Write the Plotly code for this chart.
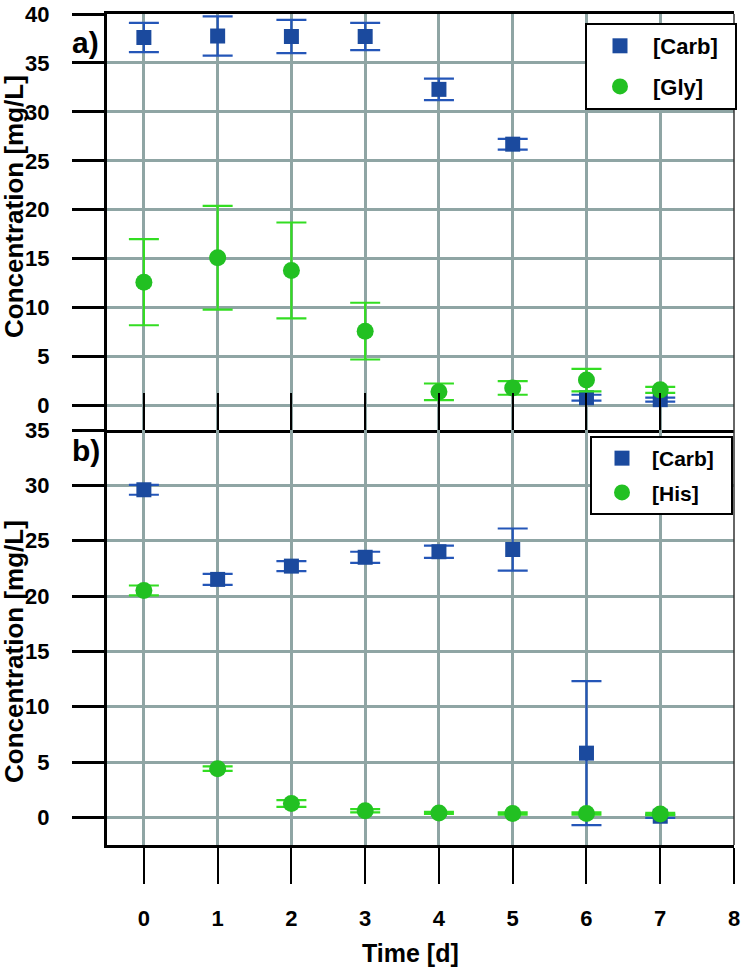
import plotly.graph_objects as go

days = [0, 1, 2, 3, 4, 5, 6, 7]

# Panel a
carb_a = [37.6, 37.75, 37.7, 37.7, 32.3, 26.7, 0.8, 0.6]
carb_a_err = [1.5, 2.0, 1.7, 1.4, 1.1, 0.55, 0.3, 0.2]
gly = [12.6, 15.1, 13.8, 7.6, 1.4, 1.8, 2.6, 1.6]
gly_err = [4.4, 5.3, 4.9, 2.9, 0.85, 0.7, 1.15, 0.3]

# Panel b
carb_b = [29.6, 21.5, 22.7, 23.5, 24.0, 24.2, 5.8, 0.1]
carb_b_err = [0.45, 0.5, 0.45, 0.5, 0.55, 1.9, 6.5, 0.15]
his = [20.5, 4.4, 1.25, 0.6, 0.4, 0.35, 0.35, 0.3]
his_err = [0.45, 0.2, 0.3, 0.15, 0.1, 0.1, 0.1, 0.1]

x_ticks = [0, 1, 2, 3, 4, 5, 6, 7, 8]
ya_ticks = [0, 5, 10, 15, 20, 25, 30, 35, 40]
yb_ticks = [0, 5, 10, 15, 20, 25, 30, 35]

BLUE = "#1b4a9e"
BLUE_E = "#2456b8"
GREEN = "#22c022"
GREEN_E = "#33dd22"
GRID = "#8fa5a4"
FONT = "Liberation Sans"
NB = "\u00a0"

fig = go.Figure()

def add(x, y, err, name, sym, col, ecol, xa, ya, legend, size, group):
    fig.add_trace(go.Scatter(
        x=x, y=y, mode="markers", name=name, legendgroup=group,
        marker=dict(symbol=sym, size=size, color=col),
        error_y=dict(type="data", array=err, color=ecol, thickness=2.2, width=15),
        xaxis=xa, yaxis=ya, legend=legend))

add(days, carb_a, carb_a_err, "[Carb]" + NB * 2, "square", BLUE, BLUE_E, "x", "y", "legend", 15, "a1")
add(days, gly, gly_err, "[Gly]", "circle", GREEN, GREEN_E, "x", "y", "legend", 17, "a2")
add(days, carb_b, carb_b_err, "[Carb]" + NB * 2, "square", BLUE, BLUE_E, "x2", "y2", "legend2", 15, "b1")
add(days, his, his_err, "[His]", "circle", GREEN, GREEN_E, "x2", "y2", "legend2", 17, "b2")

split = (845 - 430) / 831

common_x = dict(range=[-0.5, 8], tickvals=x_ticks, showgrid=True, gridcolor=GRID,
                gridwidth=3, zeroline=False, showline=True, linecolor="black",
                linewidth=3, tickcolor="black", tickwidth=2, automargin=False)
common_y = dict(showgrid=True, gridcolor=GRID, gridwidth=3, zeroline=False,
                showline=True, linecolor="black", linewidth=3, ticks="outside",
                ticklen=32, tickwidth=3, tickcolor="black", automargin=False,
                tickfont=dict(family=FONT, size=22, color="black", weight="bold"),
                ticklabelstandoff=18)

fig.update_layout(
    width=744, height=976,
    margin=dict(l=107, r=10, t=14, b=131, autoexpand=False),
    paper_bgcolor="white", plot_bgcolor="white",
    font=dict(family=FONT, color="black"),
    xaxis=dict(**common_x, anchor="y", domain=[0, 1], ticks="inside", ticklen=37,
               showticklabels=False, mirror=True),
    yaxis=dict(**common_y, domain=[split, 1], range=[-2.5, 40], tickvals=ya_ticks,
               anchor="x"),
    xaxis2=dict(**common_x, anchor="y2", domain=[0, 1], ticks="outside", ticklen=36,
                matches="x",
                tickfont=dict(family=FONT, size=22, color="black", weight="bold"),
                ticklabelstandoff=16),
    yaxis2=dict(**common_y, domain=[0, split], range=[-2.5, 35], tickvals=yb_ticks,
                anchor="x2"),
    legend=dict(x=(585 - 107) / 627, y=1 - (23 - 14) / 831, xanchor="left", yanchor="top",
                bordercolor="black", borderwidth=2, bgcolor="white",
                font=dict(family=FONT, size=22, color="black", weight="bold"),
                itemwidth=56, tracegroupgap=9),
    legend2=dict(x=(590 - 107) / 627, y=1 - (436 - 14) / 831, xanchor="left", yanchor="top",
                 bordercolor="black", borderwidth=2, bgcolor="white",
                 font=dict(family=FONT, size=21, color="black", weight="bold"),
                 itemwidth=50, tracegroupgap=4),
    showlegend=True,
)

# right border (thin)
fig.add_shape(type="line", xref="paper", yref="paper", x0=1, x1=1, y0=0, y1=1,
              line=dict(color="#333333", width=1.5))

ann_font = dict(family=FONT, color="black", weight="bold")

def ann(text, px, py, size, angle=0):
    fig.add_annotation(text=text, xref="paper", yref="paper",
                       x=(px - 107) / 627, y=1 - (py - 14) / 831,
                       xanchor="center", yanchor="middle", textangle=angle,
                       showarrow=False, font=dict(**ann_font, size=size))

ann("a)", 85, 42, 30)
ann("b)", 86, 451, 30)
ann("Concentration [mg/L]", 14, 207, 26, -90)
ann("Concentration [mg/L]", 14, 652, 26, -90)
ann("Time [d]", 410, 953, 25)

fig.write_html("out.html", config={"displayModeBar": False},
               post_script="document.body.style.margin='0';")
